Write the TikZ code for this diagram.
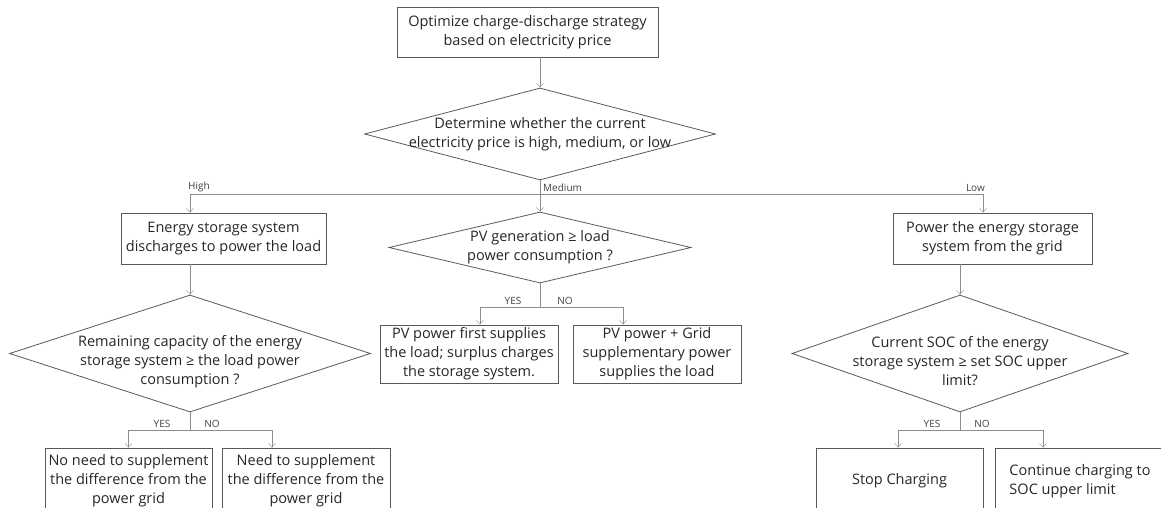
\documentclass[tikz,border=0pt]{standalone}
\usepackage{fontspec}
\setmainfont{Open Sans}
\usetikzlibrary{shapes.geometric,arrows.meta}

\begin{document}
\begin{tikzpicture}[x=1pt, y=-1pt, font=\fontsize{14.5}{19}\selectfont]
    % Styles
    \tikzstyle{block} = [rectangle, draw=black!65, line width=0.8pt, text=black!85, align=center, inner sep=0pt, minimum height=51pt]
    \tikzstyle{decision} = [diamond, draw=black!65, line width=0.8pt, inner sep=0pt]
    \tikzstyle{dtext} = [text=black!85, align=center, inner sep=0pt]
    \tikzstyle{arrow} = [draw=black!45, ->, >={Straight Barb[length=4pt,width=7pt]}]
    \tikzstyle{tag} = [font=\fontsize{10}{11}\selectfont, text=black!75, inner sep=1pt]

    \useasboundingbox (0,0) rectangle (1161,508);

    % Nodes
    \node [block, minimum width=261pt, minimum height=50pt] (start) at (527.5,32) {Optimize charge-discharge strategy\\based on electricity price};
    \node [decision, minimum width=351pt, minimum height=92pt, label={[dtext]center:{Determine whether the current\\electricity price is high, medium, or low}}] (price) at (540,134) {};

    \node [block, minimum width=205pt] (discharge) at (223.5,238.5) {Energy storage system\\discharges to power the load};
    \node [decision, minimum width=361pt, minimum height=117pt, label={[dtext, yshift=-8pt]center:{Remaining capacity of the energy\\storage system \char"2265{} the load power\\consumption ?}}] (capacity) at (190,353.5) {};
    \node [block, minimum width=167pt, minimum height=66pt] (nosupp) at (128.5,481) {No need to supplement\\the difference from the\\power grid};
    \node [block, minimum width=168pt, minimum height=66pt] (supp) at (306,481) {Need to supplement\\the difference from the\\power grid};

    \node [decision, minimum width=302pt, minimum height=71pt, label={[dtext]center:{PV generation \char"2265{} load\\power consumption ?}}] (pvgen) at (540,247.5) {};
    \node [block, minimum width=178pt, minimum height=58pt] (pvfirst) at (469,354) {PV power first supplies\\the load; surplus charges\\the storage system.};
    \node [block, minimum width=168pt, minimum height=58pt] (pvgrid) at (657,354) {PV power + Grid\\supplementary power\\supplies the load};

    \node [block, minimum width=199pt] (charge) at (992.5,238.5) {Power the energy storage\\system from the grid};
    \node [decision, minimum width=336pt, minimum height=117pt, label={[dtext, yshift=-8pt]center:{Current SOC of the energy\\storage system \char"2265{} set SOC upper\\limit?}}] (soc) at (960,353.5) {};
    \node [block, minimum width=167pt, minimum height=66pt] (stop) at (899.5,481) {Stop Charging};
    \node [block, minimum width=170pt, minimum height=66pt, align=left] (cont) at (1080,481) {Continue charging to\\SOC upper limit};

    % Labels
    \node [tag, anchor=south west] (high) at (187,193) {High};
    \node [tag, anchor=south west] (medium) at (542,193) {Medium};
    \node [tag, anchor=south east] (low) at (986,193) {Low};
    \node [tag, anchor=south] (yes1) at ([xshift=-28pt, yshift=-16pt]capacity.south) {YES};
    \node [tag, anchor=south] (no1) at ([xshift=22pt, yshift=-16pt]capacity.south) {NO};
    \node [tag, anchor=south] (yes2) at ([xshift=-27pt, yshift=-22pt]pvgen.south) {YES};
    \node [tag, anchor=south] (no2) at ([xshift=25pt, yshift=-22pt]pvgen.south) {NO};
    \node [tag, anchor=south] (yes3) at ([xshift=-28pt, yshift=-16pt]soc.south) {YES};
    \node [tag, anchor=south] (no3) at ([xshift=22pt, yshift=-16pt]soc.south) {NO};

    % Arrows
    \draw [arrow] (start.south -| price.north) -- (price.north);
    \draw [arrow] (price.south) -- (pvgen.north);
    \draw [arrow] (price.south) ++(0,14) -| ([xshift=-33.5pt]discharge.north);
    \draw [arrow] (price.south) ++(0,14) -| ([xshift=-9.5pt]charge.north);

    \draw [arrow] (discharge.south -| capacity.north) -- (capacity.north);
    \draw [arrow] (capacity.south) -- ++(0,18) -| (nosupp.north);
    \draw [arrow] (capacity.south) -- ++(0,18) -| ([xshift=-34pt]supp.north);

    \draw [arrow] (pvgen.south) -- ++(0,24) -| ([xshift=11pt]pvfirst.north);
    \draw [arrow] (pvgen.south) -- ++(0,24) -| ([xshift=-34pt]pvgrid.north);

    \draw [arrow] (charge.south -| soc.north) -- (soc.north);
    \draw [arrow] (soc.south) -- ++(0,18) -| ([xshift=-1.5pt]stop.north);
    \draw [arrow] (soc.south) -- ++(0,18) -| ([xshift=-37pt]cont.north);
\end{tikzpicture}
\end{document}
